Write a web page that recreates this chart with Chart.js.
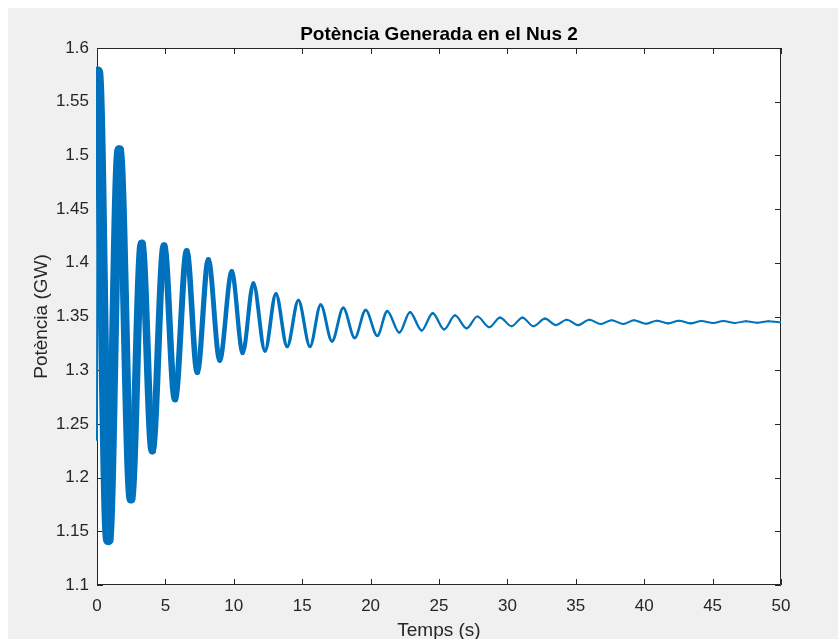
<!DOCTYPE html>
<html>
<head>
<meta charset="utf-8">
<script src="https://cdn.jsdelivr.net/npm/chart.js@4.4.1/dist/chart.umd.min.js"></script>
<style>
  html, body { margin: 0; padding: 0; background: #f0f0f0; }
  #wrap { width: 838px; height: 639px; position: relative; }
  canvas { display: block; }
</style>
</head>
<body>
<div id="wrap"><canvas id="chart" width="838" height="639"></canvas></div>
<script>
// Generated power at bus 2: turning points of the damped swing (time in s, power in GW)
const timeS = [0, 0.05, 0.83, 1.63, 2.49, 3.27, 4.04, 4.9, 5.7, 6.56,
  7.33, 8.14, 8.97, 9.85, 10.65, 11.43, 12.28, 13.08, 13.9, 14.72,
  15.57, 16.35, 17.18, 18.0, 18.84, 19.64, 20.49, 21.22, 22.1, 22.88,
  23.73, 24.54, 25.37, 26.17, 27.02, 27.8, 28.68, 29.46, 30.3, 31.1,
  31.9, 32.75, 33.55, 34.33, 35.18, 35.99, 36.82, 37.62, 38.47, 39.25,
  40.13, 40.91, 41.76, 42.54, 43.39, 44.17, 45.05, 45.78, 46.64, 47.44,
  48.27, 49.07, 50];
const powerGW = [1.235, 1.578, 1.142, 1.505, 1.180, 1.418, 1.225, 1.416, 1.273, 1.411,
  1.298, 1.403, 1.309, 1.392, 1.316, 1.381, 1.318, 1.371, 1.322, 1.365,
  1.322, 1.361, 1.327, 1.358, 1.330, 1.356, 1.332, 1.355, 1.335, 1.354,
  1.337, 1.353, 1.338, 1.351, 1.339, 1.350, 1.340, 1.349, 1.341, 1.349,
  1.341, 1.348, 1.342, 1.347, 1.342, 1.347, 1.343, 1.3465, 1.343, 1.3465,
  1.3433, 1.3461, 1.3436, 1.3461, 1.3436, 1.3458, 1.344, 1.3458, 1.344, 1.3455,
  1.3442, 1.3455, 1.3445];

const xTickLabels = ['0', '5', '10', '15', '20', '25', '30', '35', '40', '45', '50'];
const yTickLabels = ['1.1', '1.15', '1.2', '1.25', '1.3', '1.35', '1.4', '1.45', '1.5', '1.55', '1.6'];

const titleText = 'Potència Generada en el Nus 2';

const AXIS_COLOR = '#262626';
const LINE_COLOR = '#0072BD';
const FONT = '"Liberation Sans", Arial, Helvetica, sans-serif';

// Stroke width along the trace: the fast ripple riding on the swing makes
// the trace look like a thick band at first, thinning as it dies out.
function traceWidth(t) {
  return 2 + 9 * Math.exp(-t / 7.5);
}

// Figure background and white plot box
const backdrop = {
  id: 'backdrop',
  beforeDraw(chart) {
    const { ctx, width, height, chartArea: a } = chart;
    ctx.save();
    ctx.fillStyle = '#ffffff';
    ctx.fillRect(0, 0, width, height);
    ctx.fillStyle = '#f0f0f0';
    ctx.fillRect(8, 8, width - 8, height - 8);
    ctx.fillStyle = '#ffffff';
    ctx.fillRect(a.left, a.top, a.right - a.left, a.bottom - a.top);
    ctx.restore();
  }
};

// Box outline with inward tick marks on all four sides
const axesBox = {
  id: 'axesBox',
  beforeDatasetsDraw(chart) {
    const { ctx, chartArea: a, scales } = chart;
    const len = 6;
    ctx.save();
    ctx.strokeStyle = AXIS_COLOR;
    ctx.lineWidth = 1;
    ctx.beginPath();
    ctx.rect(a.left + 0.5, a.top + 0.5, a.right - a.left - 1, a.bottom - a.top - 1);
    scales.x.ticks.forEach(tk => {
      const px = Math.round(scales.x.getPixelForValue(tk.value)) + 0.5;
      ctx.moveTo(px, a.bottom); ctx.lineTo(px, a.bottom - len);
      ctx.moveTo(px, a.top); ctx.lineTo(px, a.top + len);
    });
    scales.y.ticks.forEach(tk => {
      const py = Math.round(scales.y.getPixelForValue(tk.value)) + 0.5;
      ctx.moveTo(a.left, py); ctx.lineTo(a.left + len, py);
      ctx.moveTo(a.right, py); ctx.lineTo(a.right - len, py);
    });
    ctx.stroke();
    ctx.restore();
  }
};

// Title centred over the plot box
const plotTitle = {
  id: 'plotTitle',
  afterDraw(chart) {
    const { ctx, chartArea: a } = chart;
    ctx.save();
    ctx.fillStyle = '#000000';
    ctx.font = 'bold 19px ' + FONT;
    ctx.textAlign = 'center';
    ctx.textBaseline = 'middle';
    ctx.fillText(titleText, (a.left + a.right) / 2, a.top - 13);
    ctx.restore();
  }
};

const points = timeS.map((t, i) => ({ x: t, y: powerGW[i] }));

new Chart(document.getElementById('chart'), {
  type: 'line',
  data: {
    datasets: [{
      label: 'Potència (GW)',
      data: points,
      borderColor: LINE_COLOR,
      backgroundColor: LINE_COLOR,
      borderWidth: 2,
      pointRadius: 0,
      fill: false,
      cubicInterpolationMode: 'monotone',
      borderCapStyle: 'round',
      borderJoinStyle: 'round',
      clip: { left: 1, top: 0, right: 0, bottom: 0 },
      segment: {
        borderWidth: ctx => {
          const t0 = ctx.p0.parsed.x, t1 = ctx.p1.parsed.x;
          if (t0 === 0) return 2;
          return traceWidth((t0 + t1) / 2);
        }
      }
    }]
  },
  options: {
    responsive: false,
    devicePixelRatio: 1,
    animation: false,
    events: [],
    layout: { padding: { left: 0, right: 57, top: 48, bottom: 0 } },
    plugins: {
      legend: { display: false },
      tooltip: { enabled: false },
      title: { display: false }
    },
    scales: {
      x: {
        type: 'linear',
        min: 0, max: 50,
        grid: { display: false, drawTicks: false },
        border: { display: false },
        ticks: {
          stepSize: 5,
          padding: 11,
          color: AXIS_COLOR,
          font: { family: FONT, size: 17 },
          maxRotation: 0,
          callback: (v, i) => xTickLabels[i]
        },
        title: {
          display: true,
          text: 'Temps (s)',
          color: AXIS_COLOR,
          font: { family: FONT, size: 19, lineHeight: 1 },
          padding: { top: 0, bottom: -1 }
        },
        afterFit: s => { s.height = 54; }
      },
      y: {
        type: 'linear',
        min: 1.1, max: 1.6,
        grid: { display: false, drawTicks: false },
        border: { display: false },
        ticks: {
          stepSize: 0.05,
          padding: 8,
          color: AXIS_COLOR,
          font: { family: FONT, size: 17 },
          callback: (v, i) => yTickLabels[i]
        },
        title: {
          display: true,
          text: 'Potència (GW)',
          color: AXIS_COLOR,
          font: { family: FONT, size: 19, lineHeight: 1.2 },
          padding: { top: 30, bottom: 0 }
        },
        afterFit: s => { s.width = 97; }
      }
    }
  },
  plugins: [backdrop, axesBox, plotTitle]
});
</script>
</body>
</html>
